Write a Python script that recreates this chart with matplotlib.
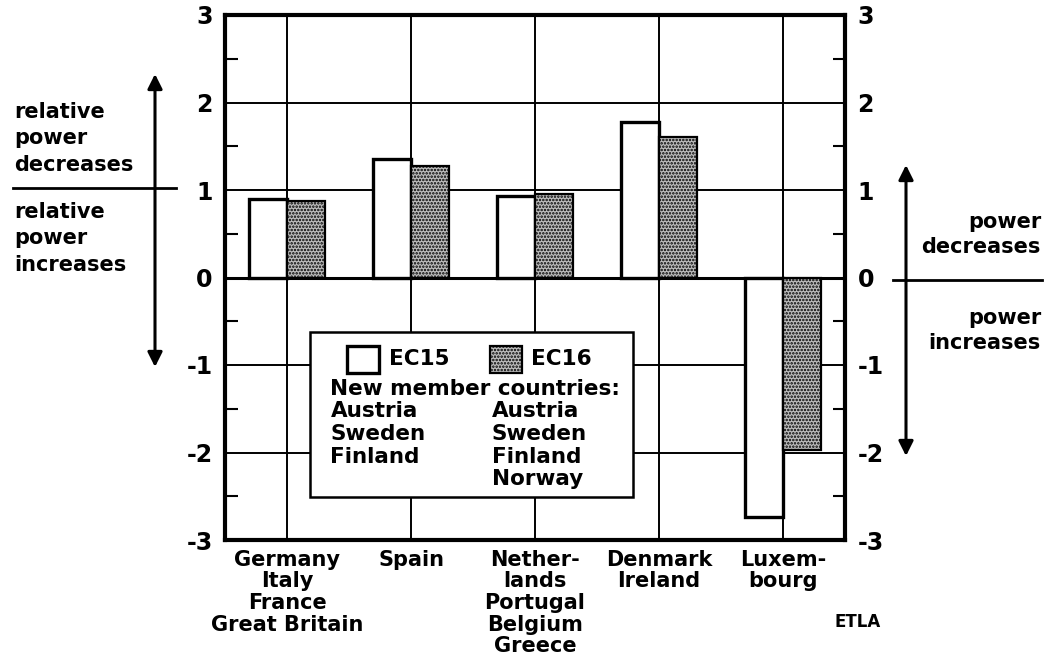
import matplotlib.pyplot as plt
import matplotlib.patches as mpatches
import numpy as np

# data
categories = ['Germany\nItaly\nFrance\nGreat Britain', 'Spain',
              'Nether-\nlands\nPortugal\nBelgium\nGreece',
              'Denmark\nIreland', 'Luxem-\nbourg']
ec15 = [0.90, 1.36, 0.93, 1.78, -2.74]
ec16 = [0.87, 1.28, 0.96, 1.61, -1.97]
yticks = [3, 2, 1, 0, -1, -2, -3]
ec15_new = ['Austria', 'Sweden', 'Finland']
ec16_new = ['Austria', 'Sweden', 'Finland', 'Norway']

plt.rcParams['font.family'] = ['DejaVu Sans']
plt.rcParams['font.weight'] = 'bold'
plt.rcParams['hatch.color'] = '#444444'
plt.rcParams['hatch.linewidth'] = 1.2

W, H = 1052, 658
fig = plt.figure(figsize=(W / 100, H / 100), dpi=100)
ax = fig.add_axes([225 / W, 1 - 540 / H, 620 / W, 525 / H])


def px(x, y):
    # figure pixel -> figure fraction
    return x / W, 1 - y / H


x = np.arange(len(categories))
bw = 0.31
gray = '#bdbdbd'
fs = 15

ax.bar(x - bw / 2, ec15, bw, color='white', edgecolor='black', linewidth=2.4, zorder=3)
ax.bar(x + bw / 2, ec16, bw, color=gray, edgecolor='black', linewidth=1.6,
       hatch='.....', zorder=3)

ax.set_xlim(-0.5, len(categories) - 0.5)
ax.set_ylim(-3, 3)

# grid
for xi in x:
    ax.axvline(xi, color='black', lw=1.4, zorder=1)
for yv in yticks:
    ax.axhline(yv, color='black', lw=2.2 if yv == 0 else 1.4, zorder=1)

for s in ax.spines.values():
    s.set_linewidth(3)

ax.set_xticks(x)
ax.set_xticklabels(categories, fontsize=fs, fontweight='bold', linespacing=1.1)
ax.tick_params(axis='x', length=0, pad=7)

ax.set_yticks(yticks)
ax.set_yticklabels([str(v) for v in yticks], fontsize=17, fontweight='bold')
ax.set_yticks(np.arange(-2.5, 3, 1.0), minor=True)
ax.tick_params(axis='y', which='major', length=0, pad=9, labelright=True, right=True)
ax.tick_params(axis='y', which='minor', direction='in', length=9, width=1.5,
               left=True, right=True)

# legend box
ax.add_patch(mpatches.Rectangle((0.137, 0.082), 0.521, 0.314, transform=ax.transAxes,
                                facecolor='white', edgecolor='black', lw=1.8, zorder=5))
ax.add_patch(mpatches.Rectangle((0.197, 0.318), 0.052, 0.052, transform=ax.transAxes,
                                facecolor='white', edgecolor='black', lw=2.4, zorder=6))
ax.add_patch(mpatches.Rectangle((0.427, 0.318), 0.052, 0.052, transform=ax.transAxes,
                                facecolor=gray, edgecolor='black', lw=1.6,
                                hatch='.....', zorder=6))
ax.text(0.264, 0.344, 'EC15', transform=ax.transAxes, fontsize=15.5,
        fontweight='bold', va='center', zorder=7)
ax.text(0.494, 0.344, 'EC16', transform=ax.transAxes, fontsize=15.5,
        fontweight='bold', va='center', zorder=7)
ax.text(0.170, 0.287, 'New member countries:', transform=ax.transAxes, fontsize=15.5,
        fontweight='bold', va='center', zorder=7)
for i, name in enumerate(ec15_new):
    ax.text(0.170, 0.245 - i * 0.043, name, transform=ax.transAxes, fontsize=15.5,
            fontweight='bold', va='center', zorder=7)
for i, name in enumerate(ec16_new):
    ax.text(0.430, 0.245 - i * 0.043, name, transform=ax.transAxes, fontsize=15.5,
            fontweight='bold', va='center', zorder=7)

# left side annotation
fig.add_artist(mpatches.FancyArrowPatch(px(155, 74), px(155, 367), transform=fig.transFigure,
                                        arrowstyle='<|-|>', mutation_scale=22, lw=2.2,
                                        color='black', shrinkA=0, shrinkB=0))
fig.add_artist(plt.Line2D([px(13, 0)[0], px(176, 0)[0]], [px(0, 188)[1]] * 2,
                          transform=fig.transFigure, color='black', lw=2))
for i, t in enumerate(['relative', 'power', 'decreases']):
    fig.text(*px(14, 112 + 26.5 * i), t, fontsize=fs, va='center', ha='left')
for i, t in enumerate(['relative', 'power', 'increases']):
    fig.text(*px(14, 212 + 26.5 * i), t, fontsize=fs, va='center', ha='left')

# right side annotation
fig.add_artist(mpatches.FancyArrowPatch(px(906, 165), px(906, 456), transform=fig.transFigure,
                                        arrowstyle='<|-|>', mutation_scale=22, lw=2.2,
                                        color='black', shrinkA=0, shrinkB=0))
fig.add_artist(plt.Line2D([px(893, 0)[0], px(1042, 0)[0]], [px(0, 280)[1]] * 2,
                          transform=fig.transFigure, color='black', lw=2))
for i, t in enumerate(['power', 'decreases']):
    fig.text(*px(1041, 222 + 25 * i), t, fontsize=fs, va='center', ha='right')
for i, t in enumerate(['power', 'increases']):
    fig.text(*px(1041, 318 + 25 * i), t, fontsize=fs, va='center', ha='right')

fig.text(*px(858, 622), 'ETLA', fontsize=12, fontweight='bold', va='center', ha='center')

fig.savefig('out.png', dpi=100)
